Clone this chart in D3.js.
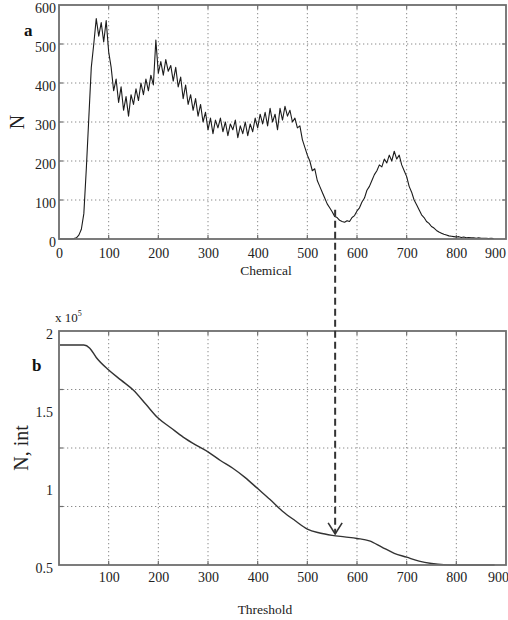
<!DOCTYPE html>
<html>
<head>
<meta charset="utf-8">
<script src="https://cdn.jsdelivr.net/npm/d3@7"></script>
<style>
  html, body { margin: 0; padding: 0; background: #fff; }
  svg { display: block; font-family: "Liberation Serif", "DejaVu Serif", serif; }
</style>
</head>
<body>
<svg id="chart" width="508" height="620"></svg>
<script>
// panel a: histogram, bins of 5 from 0 to 875
const chemicalStep = 5;
const chemicalCounts = [
  0, 0, 0, 0, 0, 0, 1, 3, 10, 25,
  65, 180, 310, 440, 500, 565, 520, 555, 505, 560,
  480, 440, 380, 410, 350, 390, 330, 365, 315, 370,
  345, 385, 355, 400, 370, 410, 380, 420, 395, 510,
  425, 455, 420, 460, 430, 445, 405, 440, 390, 415,
  360, 395, 345, 370, 330, 360, 315, 345, 300, 325,
  280, 310, 270, 305, 285, 310, 275, 300, 265, 295,
  280, 305, 260, 290, 270, 300, 265, 295, 275, 310,
  285, 320, 295, 325, 290, 335, 300, 320, 280, 335,
  305, 340, 315, 330, 300, 310, 285, 290, 255, 235,
  215, 200, 175, 180, 150, 135, 120, 105, 90, 80,
  70, 58, 55, 48, 45, 43, 47, 45, 55, 60,
  72, 80, 95, 105, 125, 135, 150, 165, 175, 190,
  185, 205, 195, 215, 200, 225, 205, 215, 190, 175,
  160, 135, 120, 100, 88, 75, 62, 55, 45, 40,
  32, 28, 22, 18, 15, 12, 10, 8, 7, 6,
  5, 6, 4, 5, 3, 4, 3, 3, 2, 3,
  2, 2, 2, 1, 2, 1
];

// panel b: cumulative count (x 10^5) vs threshold
const thresholds = [2, 25, 50, 62, 75, 100, 125, 150, 175, 200, 225, 250, 275, 300, 325, 350, 375, 400,
  425, 450, 475, 500, 525, 550, 575, 600, 625, 650, 675, 700, 725, 750, 775, 800, 850, 877];
const integralCounts = [1.91, 1.91, 1.91, 1.89, 1.83, 1.75, 1.685, 1.62, 1.53, 1.44, 1.38, 1.32, 1.27, 1.225, 1.17, 1.12, 1.06, 0.99,
  0.92, 0.845, 0.785, 0.73, 0.705, 0.69, 0.68, 0.67, 0.655, 0.615, 0.575, 0.55, 0.525, 0.51, 0.502, 0.5, 0.5, 0.5];

const topXTicks = [0, 100, 200, 300, 400, 500, 600, 700, 800, 900];
const topYTicks = [0, 100, 200, 300, 400, 500, 600];
const topYGrid = [100, 200, 300, 400, 500];
const botXTicks = [100, 200, 300, 400, 500, 600, 700, 800, 900];
const botYTicks = [0.5, 1, 1.5, 2];
const botYGrid = [0.875, 1.25, 1.625];
const xGrid = [100, 200, 300, 400, 500, 600, 700, 800];
const selectedThreshold = 556;

const svg = d3.select("#chart");
const frameColor = "#6e6e6e";
const gridColor = "#8a8a8a";

const xTop = d3.scaleLinear().domain([0, 900]).range([59, 506]);
const yTop = d3.scaleLinear().domain([0, 600]).range([239, 5]);
const xBot = d3.scaleLinear().domain([0, 900]).range([59, 506]);
const yBot = d3.scaleLinear().domain([0.5, 2]).range([565, 331]);

function panel(x, y, xg, yg) {
  const g = svg.append("g");
  const [x0, x1] = x.range();
  const [y0, y1] = y.range();
  g.selectAll("line.vg").data(xg).join("line")
    .attr("x1", (d) => x(d)).attr("x2", (d) => x(d)).attr("y1", y1).attr("y2", y0)
    .attr("stroke", gridColor).attr("stroke-width", 1).attr("stroke-dasharray", "1.3,2.7");
  g.selectAll("line.hg").data(yg).join("line")
    .attr("x1", x0).attr("x2", x1).attr("y1", (d) => y(d)).attr("y2", (d) => y(d))
    .attr("stroke", gridColor).attr("stroke-width", 1).attr("stroke-dasharray", "1.3,2.7");
  // inward ticks on all four sides
  const t = 4;
  xg.forEach((d) => {
    g.append("line").attr("x1", x(d)).attr("x2", x(d)).attr("y1", y0).attr("y2", y0 - t).attr("stroke", frameColor).attr("stroke-width", 1.2);
    g.append("line").attr("x1", x(d)).attr("x2", x(d)).attr("y1", y1).attr("y2", y1 + t).attr("stroke", frameColor).attr("stroke-width", 1.2);
  });
  yg.forEach((d) => {
    g.append("line").attr("x1", x0).attr("x2", x0 + t).attr("y1", y(d)).attr("y2", y(d)).attr("stroke", frameColor).attr("stroke-width", 1.2);
    g.append("line").attr("x1", x1).attr("x2", x1 - t).attr("y1", y(d)).attr("y2", y(d)).attr("stroke", frameColor).attr("stroke-width", 1.2);
  });
  return g;
}

function frame(x, y) {
  const [x0, x1] = x.range();
  const [y0, y1] = y.range();
  svg.append("rect").attr("x", x0).attr("y", y1).attr("width", x1 - x0).attr("height", y0 - y1)
    .attr("fill", "none").attr("stroke", frameColor).attr("stroke-width", 1.8);
}

function labels(axis, tx, ty) {
  return svg.append("g").attr("transform", `translate(${tx},${ty})`)
    .call(axis)
    .call((sel) => sel.select(".domain").remove())
    .call((sel) => sel.selectAll("text").attr("fill", "#222").attr("font-size", "14px").attr("font-family", "Liberation Serif"));
}

// ---- panel a
panel(xTop, yTop, xGrid, topYGrid);

const lineTop = d3.line()
  .x((d, i) => xTop(i * chemicalStep))
  .y((d) => yTop(d));

svg.append("path")
  .datum(chemicalCounts)
  .attr("fill", "none")
  .attr("stroke", "#1c1c1c")
  .attr("stroke-width", 1.1)
  .attr("stroke-linejoin", "round")
  .attr("d", lineTop);

frame(xTop, yTop);

labels(d3.axisBottom(xTop).tickValues(topXTicks).tickSize(0).tickPadding(9), 0, 239)
  .call((sel) => sel.selectAll(".tick text").filter((d) => d === 900).attr("dx", -11));
labels(d3.axisLeft(yTop).tickValues(topYTicks).tickSize(0).tickPadding(3), 59, 0)
  .call((sel) => sel.selectAll(".tick text").attr("dy", "0.5em"));

svg.append("text").attr("x", 266).attr("y", 275).attr("text-anchor", "middle")
  .attr("font-size", "13.5px").attr("fill", "#222").text("Chemical");
svg.append("text").attr("transform", "translate(24,122) rotate(-90)").attr("text-anchor", "middle")
  .attr("font-size", "20px").attr("fill", "#222").text("N");
svg.append("text").attr("x", 24).attr("y", 36)
  .attr("font-size", "17px").attr("font-weight", "bold").attr("fill", "#111").text("a");

// ---- panel b
panel(xBot, yBot, xGrid, botYGrid);

const lineBot = d3.line()
  .x((d, i) => xBot(thresholds[i]))
  .y((d) => yBot(d))
  .curve(d3.curveMonotoneX);

svg.append("path")
  .datum(integralCounts)
  .attr("fill", "none")
  .attr("stroke", "#333")
  .attr("stroke-width", 1.4)
  .attr("d", lineBot);

frame(xBot, yBot);

labels(d3.axisBottom(xBot).tickValues(botXTicks).tickSize(0).tickPadding(7), 0, 565)
  .call((sel) => sel.selectAll(".tick text").filter((d) => d === 900).attr("dx", -8));
labels(d3.axisLeft(yBot).tickValues(botYTicks).tickSize(0).tickPadding(6).tickFormat((d) => d === 2 || d === 1 ? d : d.toString()), 59, 0)
  .call((sel) => sel.selectAll(".tick text").attr("dy", "0.5em"));

const expo = svg.append("text").attr("x", 55).attr("y", 322).attr("font-size", "13px").attr("fill", "#222");
expo.append("tspan").text("x  10");
expo.append("tspan").attr("dy", -6).attr("font-size", "8px").text("5");

svg.append("text").attr("x", 265).attr("y", 614).attr("text-anchor", "middle")
  .attr("font-size", "13.5px").attr("fill", "#222").text("Threshold");
svg.append("text").attr("transform", "translate(28,448) rotate(-90)").attr("text-anchor", "middle")
  .attr("font-size", "20px").attr("fill", "#222").text("N, int");
svg.append("text").attr("x", 32).attr("y", 371)
  .attr("font-size", "17px").attr("font-weight", "bold").attr("fill", "#111").text("b");

// ---- dashed arrow linking the minimum to the threshold curve
const ax = xTop(selectedThreshold);
const tipY = yBot(0.68) - 3;
svg.append("line")
  .attr("x1", ax).attr("x2", ax)
  .attr("y1", yTop(75)).attr("y2", tipY)
  .attr("stroke", "#333").attr("stroke-width", 2).attr("stroke-dasharray", "7,4");
svg.append("path")
  .attr("d", `M${ax - 7},${tipY - 11} L${ax},${tipY} L${ax + 7},${tipY - 11}`)
  .attr("fill", "none").attr("stroke", "#333").attr("stroke-width", 1.6);
</script>
</body>
</html>
